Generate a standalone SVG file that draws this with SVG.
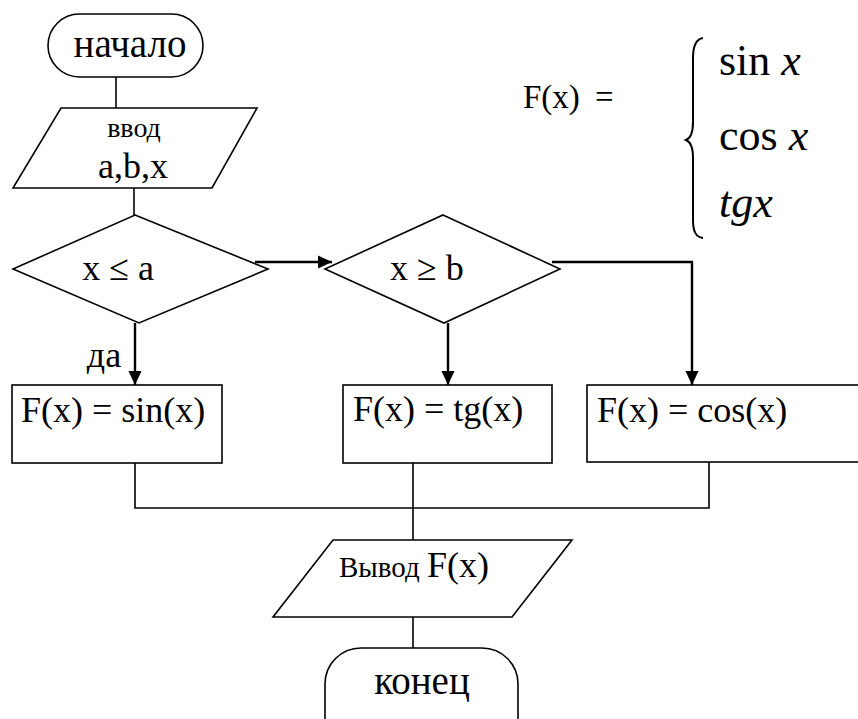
<svg xmlns="http://www.w3.org/2000/svg" width="858" height="719" viewBox="0 0 858 719">
<defs>
<marker id="arr" markerUnits="userSpaceOnUse" markerWidth="14" markerHeight="14" refX="15" refY="7" orient="auto" viewBox="0 0 15 14">
<path d="M0,0 L15,7 L0,14 z" fill="#000"/>
</marker>
<style>
.shape{fill:#fff;stroke:#000;stroke-width:1.6}
.line{fill:none;stroke:#000;stroke-width:1.6}
.arrow{fill:none;stroke:#000;stroke-width:2.4;marker-end:url(#arr)}
.tx{font-family:'Times New Roman','Liberation Serif','DejaVu Serif',serif;fill:#000}
.t36{font-size:36px}
.it{font-style:italic}
</style>
</defs>
<rect width="858" height="719" fill="#fff"/>
<g id="connectors">
<line class="line" x1="116" y1="77" x2="116" y2="108"/>
<line class="line" x1="134" y1="188" x2="134" y2="215"/>
<line class="arrow" x1="255" y1="262" x2="332" y2="262"/>
<line class="arrow" x1="135" y1="323" x2="135" y2="385"/>
<line class="arrow" x1="448" y1="323" x2="448" y2="385"/>
<polyline class="arrow" points="552,262 692,262 692,385"/>
<polyline class="line" points="135,463 135,508 709,508 709,462"/>
<line class="line" x1="413" y1="463" x2="413" y2="540"/>
<line class="line" x1="413" y1="617" x2="413" y2="648"/>
</g>
<g id="start">
<rect class="shape" x="48" y="14" width="155" height="63" rx="31.5" ry="31.5"/>
<text class="tx" x="130" y="57" text-anchor="middle" font-size="39">начало</text>
</g>
<g id="input">
<polygon class="shape" points="61,108 257,108 212,188 13,188"/>
<text class="tx" x="134" y="137" text-anchor="middle" font-size="28">ввод</text>
<text class="tx t36" x="133" y="178" text-anchor="middle">a,b,x</text>
</g>
<g id="cond1">
<polygon class="shape" points="135,215 268,269 139,323 13,269"/>
<text class="tx t36" x="118" y="280" text-anchor="middle">x ≤ a</text>
</g>
<g id="cond2">
<polygon class="shape" points="443,215 560,269 444,323 325,269"/>
<text class="tx t36" x="427" y="280" text-anchor="middle">x ≥ b</text>
</g>
<g id="yes-label">
<text class="tx t36" x="104" y="367" text-anchor="middle">да</text>
</g>
<g id="sin">
<rect class="shape" x="12" y="385" width="210" height="78"/>
<text class="tx t36" x="21" y="422">F(x) = sin(x)</text>
</g>
<g id="tg">
<rect class="shape" x="343" y="385" width="209" height="78"/>
<text class="tx t36" x="353" y="421">F(x) = tg(x)</text>
</g>
<g id="cos">
<rect class="shape" x="587" y="385" width="290" height="77"/>
<text class="tx t36" x="597" y="422">F(x) = cos(x)</text>
</g>
<g id="output">
<polygon class="shape" points="333,540 572,540 512,617 273,617"/>
<text class="tx" x="339" y="577"><tspan font-size="29">Вывод </tspan><tspan font-size="36">F(x)</tspan></text>
</g>
<g id="end">
<rect class="shape" x="325" y="648" width="193" height="110" rx="36" ry="36"/>
<text class="tx" x="422" y="694" text-anchor="middle" font-size="39">конец</text>
</g>
<g id="formula">
<text class="tx" x="523" y="108" font-size="33">F(x)</text>
<text class="tx" x="595" y="108" font-size="33">=</text>
<path class="line" d="M703,38 C696,39 693,46 693,58 L693,122 C693,133 691,138 686,140 C691,142 693,147 693,158 L693,220 C693,232 696,237 703,238" style="stroke-width:2"/>
<text class="tx" x="719" y="75" font-size="44">sin <tspan class="it">x</tspan></text>
<text class="tx" x="719" y="150" font-size="44">cos <tspan class="it">x</tspan></text>
<text class="tx it" x="719" y="217" font-size="44">tgx</text>
</g>
</svg>
